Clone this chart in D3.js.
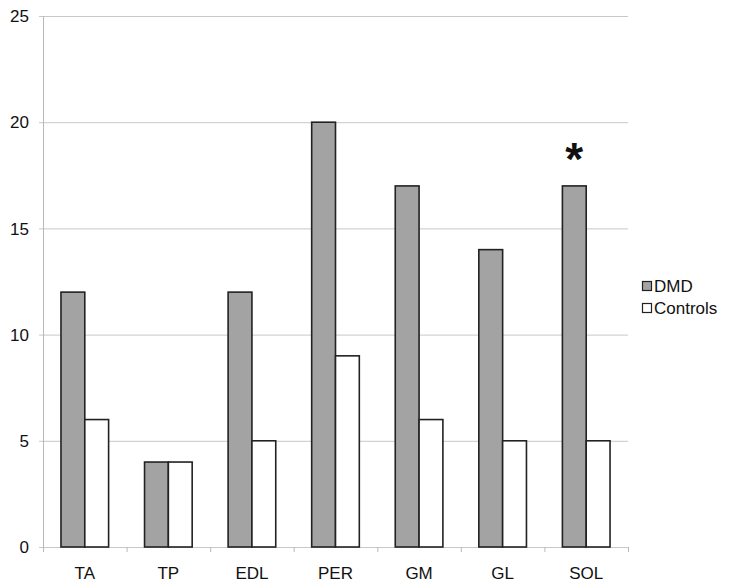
<!DOCTYPE html>
<html>
<head>
<meta charset="utf-8">
<script src="https://cdn.jsdelivr.net/npm/d3@7"></script>
<style>
  body { margin: 0; background: #fff; }
  svg text { font-family: "Liberation Sans", Arial, sans-serif; fill: #111; }
</style>
</head>
<body>
<svg class="chart"></svg>
<script>
const muscles = ["TA", "TP", "EDL", "PER", "GM", "GL", "SOL"];
const dmd = [12, 4, 12, 20, 17, 14, 17];
const controls = [6, 4, 5, 9, 6, 5, 5];
const seriesNames = ["DMD", "Controls"];
const yTicks = [0, 5, 10, 15, 20, 25];
const starred = ["SOL"];

const W = 729, H = 588;
const margin = {top: 16, left: 43, right: 101, bottom: 41};
const width = W - margin.left - margin.right;
const height = H - margin.top - margin.bottom;

const svg = d3.select("svg.chart").attr("width", W).attr("height", H);
const g = svg.append("g").attr("transform", `translate(${margin.left},${margin.top})`);

const x = d3.scaleBand().domain(muscles).range([0, width]).paddingInner(0.43).paddingOuter(0.215);
const y = d3.scaleLinear().domain([0, 25]).range([height, 0]);
const step = x.step();

// gridlines
g.selectAll(".grid").data(yTicks).enter().append("line")
    .attr("x1", -4).attr("x2", width)
    .attr("y1", d => y(d) + 0.5).attr("y2", d => y(d) + 0.5)
    .attr("stroke", "#c8c8c8").attr("stroke-width", 1);

// y labels
g.selectAll(".ylab").data(yTicks).enter().append("text")
    .attr("x", -14).attr("y", d => y(d)).attr("dy", "0.36em")
    .attr("text-anchor", "end").style("font-size", "17px")
    .text(d => d);

// y axis line
g.append("line").attr("x1", 0.5).attr("x2", 0.5).attr("y1", 0).attr("y2", height)
    .attr("stroke", "#b8b8b8");

// x ticks at boundaries
g.selectAll(".xtick").data(d3.range(muscles.length + 1)).enter().append("line")
    .attr("x1", i => i * step + 0.5).attr("x2", i => i * step + 0.5)
    .attr("y1", height).attr("y2", height + 5)
    .attr("stroke", "#b8b8b8");

const bw = x.bandwidth() / 2;
const groups = g.selectAll(".grp").data(muscles).enter().append("g")
    .attr("transform", d => `translate(${x(d)},0)`);

groups.append("rect")
    .attr("x", 0).attr("width", bw)
    .attr("y", (d, i) => y(dmd[i])).attr("height", (d, i) => height - y(dmd[i]))
    .attr("fill", "#a3a3a3").attr("stroke", "#222").attr("stroke-width", 1.6);

groups.append("rect")
    .attr("x", bw).attr("width", bw)
    .attr("y", (d, i) => y(controls[i])).attr("height", (d, i) => height - y(controls[i]))
    .attr("fill", "#fff").attr("stroke", "#222").attr("stroke-width", 1.6);

// x labels
g.selectAll(".xlab").data(muscles).enter().append("text")
    .attr("x", d => x(d) + x.bandwidth() / 2).attr("y", height + 32)
    .attr("text-anchor", "middle").style("font-size", "17px")
    .text(d => d);

// significance asterisk
g.selectAll(".star").data(starred).enter().append("text")
    .attr("x", d => x(d) + bw / 2)
    .attr("y", d => y(dmd[muscles.indexOf(d)]) - 11)
    .attr("text-anchor", "middle").style("font-size", "46px").style("font-weight", "bold")
    .text("*");

// legend
const legend = svg.append("g").attr("transform", "translate(642,281)");
const fills = ["#a3a3a3", "#fff"];
seriesNames.forEach((s, i) => {
  const row = legend.append("g").attr("transform", `translate(0,${i * 22})`);
  row.append("rect").attr("x", 0.5).attr("y", 0.5).attr("width", 9).attr("height", 9)
      .attr("fill", fills[i]).attr("stroke", "#222").attr("stroke-width", 1.2);
  row.append("text").attr("x", 12).attr("y", 5).attr("dy", "0.36em")
      .style("font-size", "17px").text(s);
});
</script>
</body>
</html>
